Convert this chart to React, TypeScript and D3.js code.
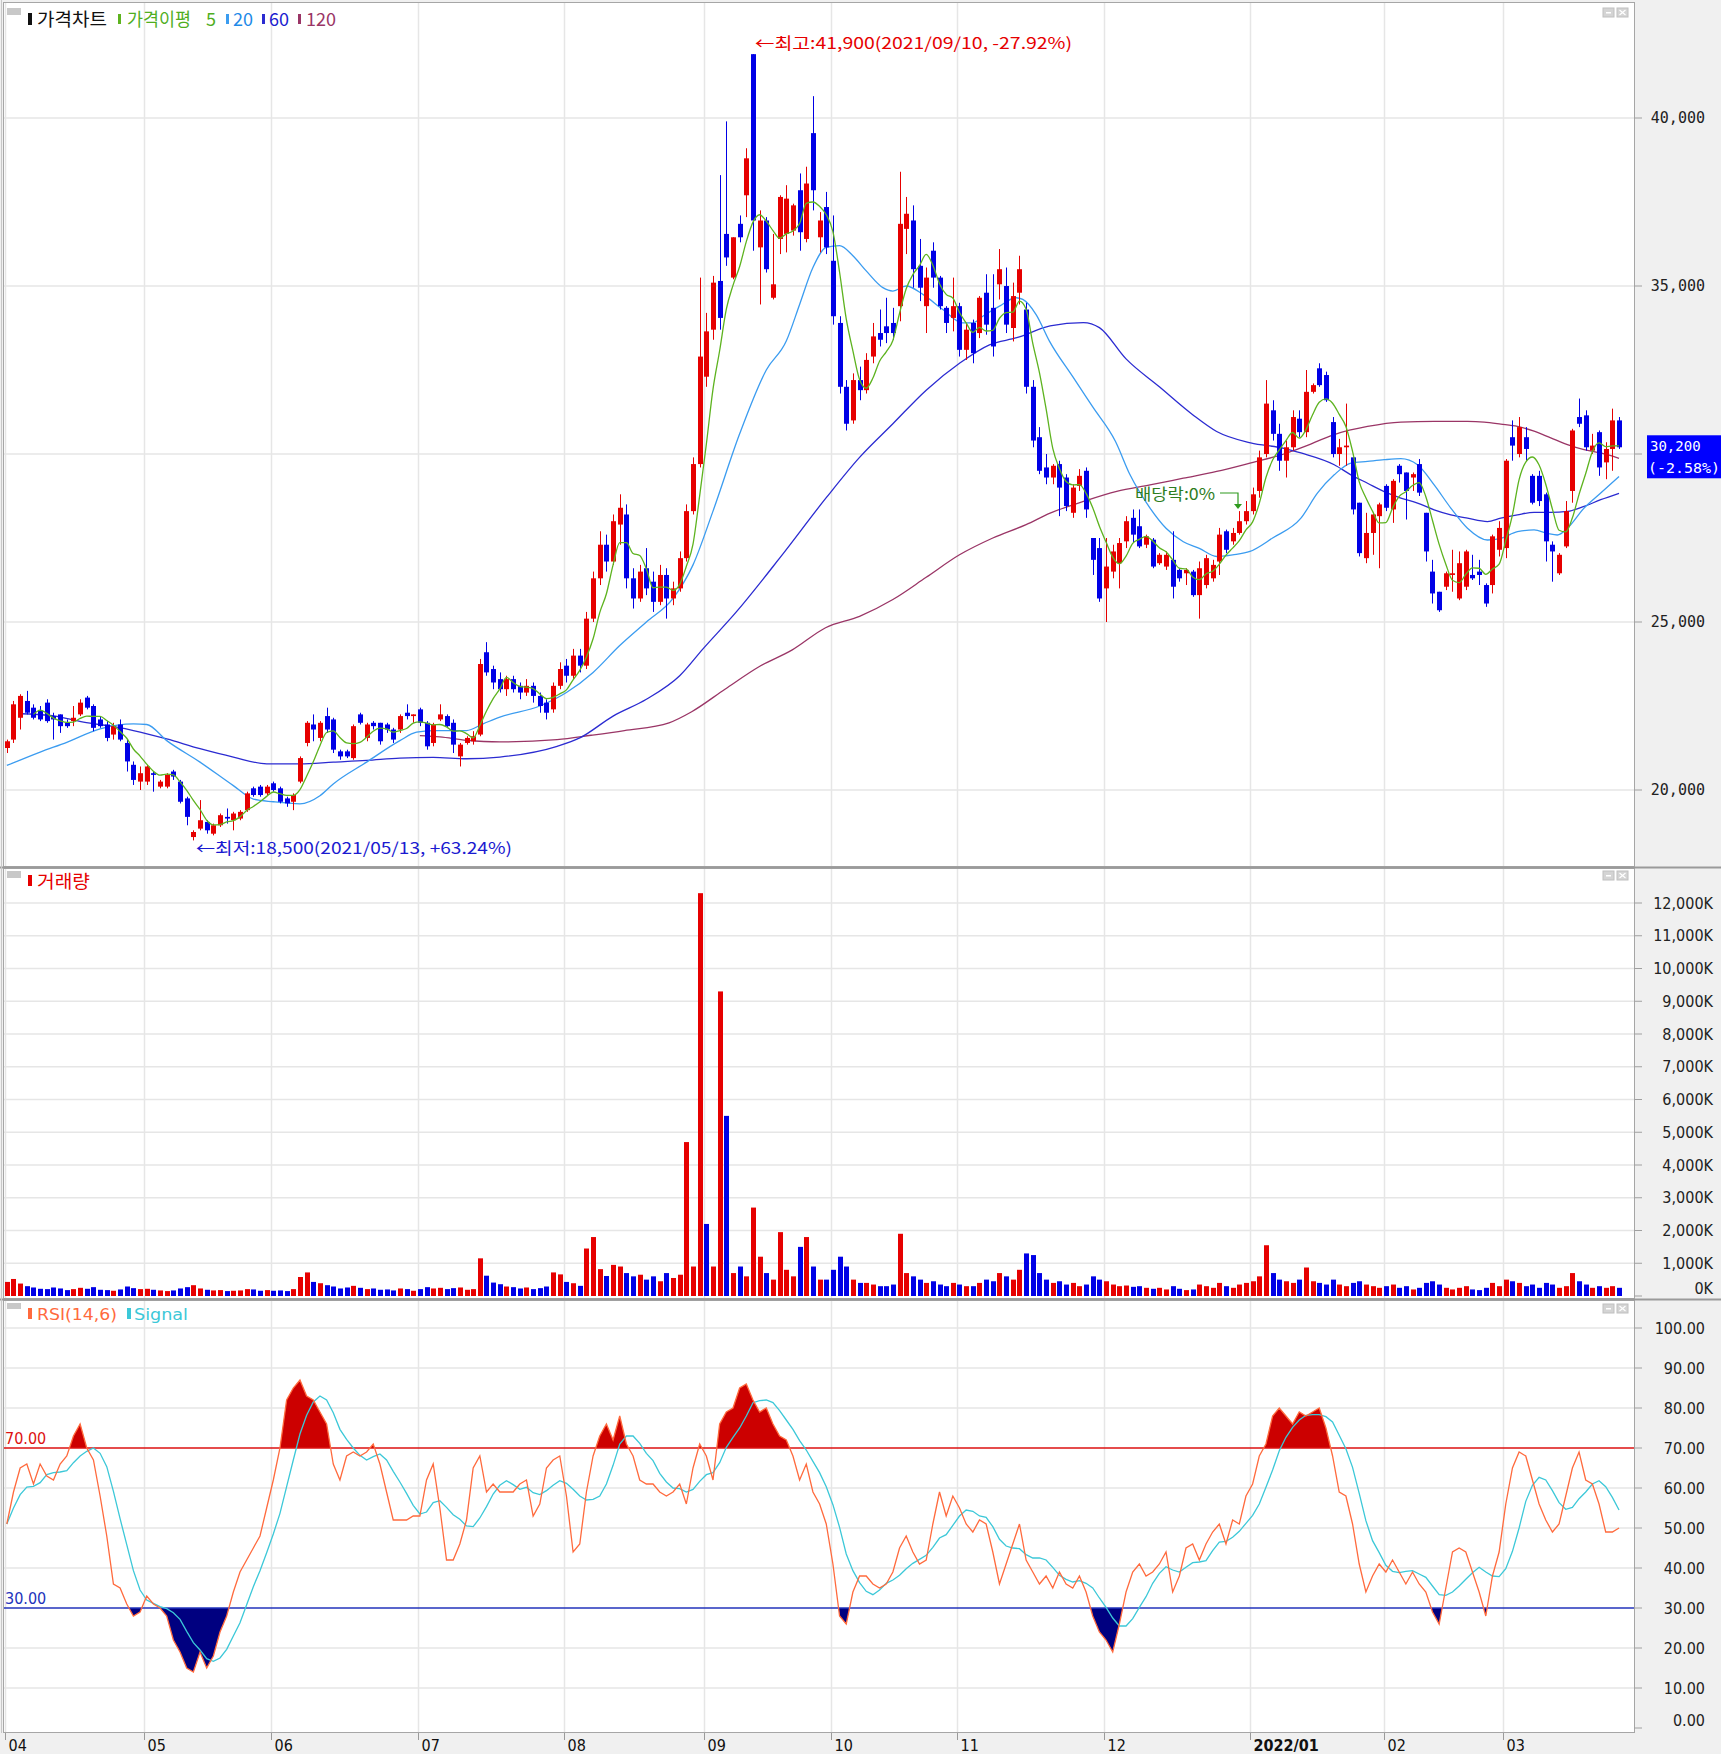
import React from "react";
import * as d3 from "d3";

// ---------------- data ----------------
const monthLabels = ["04", "05", "06", "07", "08", "09", "10", "11", "12", "2022/01", "02", "03"];
const monthStartIdx = [0, 21, 40, 62, 84, 105, 124, 143, 165, 187, 207, 225];

// [open, high, low, close]
const candlesApr = [
  [21250, 21500, 21100, 21450], [21500, 22650, 21400, 22550], [22150, 22850, 21800, 22800], [22650, 22950, 22250, 22300],
  [22450, 22550, 22100, 22150], [22350, 22500, 22050, 22100], [22600, 22700, 22000, 22050], [22200, 22300, 21500, 22100],
  [22250, 22250, 21700, 21900], [22000, 22100, 21850, 21900], [22050, 22500, 21900, 22150], [22250, 22700, 22200, 22600],
  [22750, 22800, 22400, 22450], [22500, 22550, 21750, 21850], [22100, 22200, 21850, 21900], [21950, 22050, 21450, 21550],
  [21650, 22000, 21500, 21900], [21950, 22100, 21450, 21500], [21400, 21500, 20550, 20850], [20750, 20850, 20150, 20300],
  [20250, 20700, 20000, 20500],
];
const candlesMay = [
  [20250, 20750, 20150, 20700], [20500, 20550, 19950, 20450], [20100, 20300, 20050, 20250], [20100, 20500, 20050, 20450],
  [20550, 20600, 20300, 20400], [20250, 20300, 19600, 19650], [19750, 19800, 18950, 19200], [18600, 18800, 18500, 18750],
  [18850, 19700, 18800, 19100], [19050, 19100, 18700, 18800], [18700, 19000, 18650, 18950], [18950, 19300, 18900, 19250],
  [19200, 19450, 19000, 19150], [19100, 19350, 18800, 19300], [19150, 19400, 19100, 19350], [19400, 19950, 19350, 19900],
  [20050, 20100, 19800, 19850], [20100, 20150, 19800, 19850], [19900, 20150, 19850, 20100],
];
const candlesJun = [
  [20200, 20250, 19950, 20000], [20050, 20100, 19600, 19650], [19750, 19800, 19500, 19600], [19650, 19900, 19400, 19850],
  [20250, 21000, 20200, 20950], [21400, 22050, 21300, 22000], [21950, 22250, 21450, 21800], [21550, 22050, 21450, 22000],
  [22200, 22450, 21700, 21800], [22100, 22150, 21100, 21200], [21150, 21200, 20900, 21000], [21150, 21200, 20950, 21000],
  [20950, 21950, 20900, 21900], [22250, 22300, 21950, 22000], [21550, 22000, 21450, 21950], [22000, 22050, 21800, 21900],
  [22000, 22000, 21350, 21450], [21950, 22000, 21700, 21800], [21800, 21850, 21400, 21500], [21800, 22250, 21700, 22200],
  [22300, 22550, 22100, 22200], [22200, 22250, 22000, 22250],
];
const candlesJul = [
  [22400, 22450, 21900, 22000], [22000, 22050, 21200, 21300], [21400, 22000, 21300, 21950], [22100, 22550, 22050, 22250],
  [22200, 22250, 21850, 21900], [22000, 22100, 21100, 21350], [21000, 21400, 20700, 21350], [21400, 21600, 21350, 21550],
  [21450, 21750, 21350, 21600], [21650, 23900, 21600, 23750], [24100, 24400, 23400, 23500], [23600, 23700, 23000, 23200],
  [23300, 23500, 22900, 23000], [23000, 23400, 22800, 23300], [23300, 23400, 22900, 23000], [23100, 23200, 22700, 22900],
  [22900, 23300, 22800, 23100], [23100, 23200, 22600, 22800], [22800, 22900, 22300, 22500], [22600, 22700, 22100, 22300],
  [22400, 23200, 22300, 23100], [23100, 23800, 23000, 23600],
];
const candlesAug = [
  [23700, 23900, 23200, 23400], [23400, 24200, 23300, 24000], [24000, 24200, 23500, 23700], [23700, 25300, 23600, 25100],
  [25100, 26500, 25000, 26300], [26300, 27700, 26100, 27300], [27300, 27600, 26500, 26800], [26800, 28200, 26700, 28000],
  [27900, 28800, 27300, 28400], [28200, 28500, 26000, 26300], [26300, 26600, 25400, 25700], [25700, 26700, 25600, 26500],
  [26600, 27200, 25800, 26000], [26200, 26500, 25300, 25600], [25600, 26700, 25500, 26400], [26400, 26600, 25100, 25700],
  [25700, 26200, 25500, 26000], [26000, 27100, 25900, 26900], [26900, 28500, 26800, 28300], [28300, 29900, 28200, 29700],
  [29700, 35250, 29600, 32900],
];
const candlesSep = [
  [32300, 34200, 32000, 33650], [33700, 35300, 33400, 35100], [35150, 38300, 33700, 34050], [36550, 39900, 35600, 35850],
  [35250, 36450, 35200, 36450], [36850, 37100, 36300, 36450], [37700, 39100, 37050, 38800], [41900, 41900, 36050, 36950],
  [36150, 37250, 34450, 36950], [36950, 37050, 35400, 35500], [34650, 36550, 34600, 35050], [36400, 37700, 35950, 37650],
  [36550, 38000, 36000, 37600], [36650, 37450, 36500, 37400], [37850, 38350, 36050, 36600], [36400, 38550, 36300, 38050],
  [39550, 40650, 37250, 37850], [36450, 37200, 36000, 36950], [37350, 37800, 35950, 36150],
];
const candlesOct = [
  [35750, 37100, 33850, 34100], [33900, 34100, 31800, 32000], [32000, 32200, 30700, 30900], [31000, 32400, 30900, 32200],
  [32200, 32600, 31600, 31900], [31900, 33000, 31800, 32800], [32900, 33900, 32700, 33500], [33600, 34300, 33200, 33400],
  [33800, 34650, 33300, 33600], [33900, 34350, 33400, 33600], [34400, 38400, 33950, 36850], [36700, 37650, 35950, 37150],
  [36950, 37400, 34950, 35500], [35600, 36400, 34550, 34950], [34400, 35550, 33600, 35250], [36050, 36300, 34950, 35250],
  [35250, 35300, 34300, 34400], [34350, 34400, 33600, 33900], [34050, 35250, 33650, 34400],
];
const candlesNov = [
  [34400, 34500, 32900, 33100], [33100, 33900, 32800, 33700], [33900, 34000, 32700, 33000], [33600, 34700, 33450, 34650],
  [34800, 35350, 33550, 33850], [34350, 35350, 32900, 33200], [35050, 36100, 34600, 35500], [35000, 35550, 33600, 33850],
  [33750, 35100, 33350, 34700], [34800, 35900, 34450, 35500], [34300, 34500, 31800, 32000], [32000, 32200, 30200, 30400],
  [30500, 30800, 29400, 29500], [29600, 30000, 29100, 29300], [29300, 29700, 29100, 29650], [29700, 29800, 28150, 29000],
  [29300, 29400, 28300, 28450], [28250, 29100, 28100, 29000], [29050, 29550, 28900, 29350], [29500, 29600, 28100, 28350],
  [27500, 27500, 26400, 26850], [27200, 27500, 25600, 25700],
];
const candlesDec = [
  [26000, 27500, 25000, 26650], [26500, 27300, 26300, 27100], [26750, 27500, 26000, 27350], [27400, 28150, 27200, 28000],
  [28100, 28350, 27350, 27600], [27850, 28350, 27200, 27250], [27300, 27600, 27200, 27550], [27450, 27500, 26600, 26650],
  [26750, 27050, 26700, 27000], [26650, 27100, 26550, 27000], [26850, 27700, 25700, 26050], [26550, 26600, 26200, 26300],
  [26450, 26600, 26100, 26550], [26500, 26550, 25750, 25800], [25800, 26800, 25100, 26600], [26100, 27000, 26000, 26900],
  [26300, 26850, 26200, 26700], [26800, 27800, 26400, 27600], [27700, 27750, 27050, 27150], [27400, 27800, 27300, 27650],
  [27650, 28300, 27600, 28000], [28000, 28600, 27900, 28300],
];
const candlesJan = [
  [28300, 29000, 28200, 28800], [28900, 30100, 28700, 29900], [30000, 32200, 29900, 31500], [31300, 31600, 30400, 30600],
  [30600, 30900, 29500, 29800], [29800, 30400, 29300, 30200], [30200, 31300, 30100, 31100], [31050, 31300, 30500, 30650],
  [30650, 32500, 30500, 31850], [31850, 32100, 31800, 32050], [32550, 32700, 32000, 32050], [32350, 32450, 31550, 31600],
  [30950, 31100, 29900, 30000], [30000, 30450, 29650, 30200], [30200, 31500, 29650, 30250], [29900, 29900, 28200, 28350],
  [28550, 28550, 26950, 27050], [26900, 28250, 26750, 27650], [27650, 28250, 27000, 28200], [28150, 28550, 26600, 28500],
];
const candlesFeb = [
  [29050, 29100, 28300, 28400], [28350, 29250, 27950, 29200], [29650, 29700, 29150, 29400], [29450, 29450, 28050, 28900],
  [29300, 29450, 28900, 29400], [29700, 29850, 28750, 28850], [28250, 28250, 26800, 27100], [26500, 26850, 25550, 25850],
  [25900, 25900, 25300, 25350], [26050, 26500, 25950, 26450], [26400, 27150, 25900, 26450], [25700, 27100, 25650, 26750],
  [26050, 27150, 25950, 27100], [26400, 27000, 26250, 26300], [26500, 26850, 26100, 26400], [26100, 26150, 25450, 25550],
  [26100, 27600, 25850, 27550], [27150, 28000, 26950, 27800],
];
const candlesMar = [
  [27200, 29850, 26900, 29800], [30500, 31000, 29800, 30250], [30000, 31100, 29900, 30800], [30500, 30800, 29800, 30150],
  [29350, 29400, 28500, 28550], [29350, 29500, 28450, 28600], [28800, 28850, 26800, 27400], [27300, 27400, 26200, 27100],
  [26450, 27050, 26400, 27000], [27250, 28600, 27200, 28300], [28900, 30750, 28550, 30700], [31100, 31650, 30800, 30900],
  [31150, 31300, 30100, 30200], [30100, 30600, 30000, 30250], [30650, 30700, 29350, 29600], [29750, 30350, 29250, 30150],
  [30150, 31350, 29500, 31000], [31000, 31100, 30150, 30200],
];

// volume, thousands of shares
const volAprJun = [
  430, 520, 380, 300, 260, 220, 210, 260, 230, 180, 210, 250, 220, 270, 190, 180, 160, 200, 290, 240, 210,
  220, 190, 170, 150, 170, 230, 270, 330, 230, 190, 170, 180, 150, 160, 170, 210, 200, 160, 180,
  160, 170, 150, 210, 580, 720, 430, 390, 330, 290, 230, 260, 310, 250, 210, 230, 190, 200, 170, 230, 210, 160,
];
const volJulSep = [
  210, 270, 230, 250, 210, 240, 260, 190, 210, 1150, 620, 410, 360, 290, 270, 230, 260, 210, 240, 290, 720, 660,
  430, 390, 310, 1450, 1800, 820, 610, 950, 900, 700, 600, 650, 500, 600, 450, 700, 550, 650, 4700, 900, 12300,
  2200, 900, 9300, 5500, 700, 900, 600, 2700, 1200, 700, 500, 1950, 800, 600, 1500, 1800, 900, 500, 500,
];
const volOctDec = [
  800, 1200, 900, 500, 400, 400, 350, 300, 300, 350, 1900, 700, 600, 500, 400, 450, 350, 300, 400,
  350, 300, 300, 400, 500, 450, 700, 600, 500, 800, 1300, 1250, 700, 500, 400, 450, 350, 400, 300, 350, 600, 500,
  450, 350, 300, 320, 280, 300, 250, 220, 250, 200, 300, 220, 180, 200, 350, 300, 250, 400, 300, 250, 350, 400,
];
const volJanMar = [
  450, 600, 1550, 700, 500, 450, 400, 500, 870, 450, 400, 350, 500, 350, 300, 400, 450, 350, 300, 250,
  300, 350, 250, 300, 200, 250, 400, 450, 350, 250, 200, 250, 300, 200, 180, 250, 400, 300,
  500, 450, 400, 300, 350, 250, 400, 350, 250, 300, 700, 450, 350, 250, 300, 250, 300, 250,
];
// days whose volume bar colour differs from the candle colour
const volumeColorOverride: Record<number, "up" | "down"> = { 105: "down", 107: "up", 112: "up" };

// RSI(14) values per trading day
const rsiValues = [
  51, 59, 65, 66, 61, 66, 63, 62, 66, 68, 73, 76, 70, 67, 58, 48, 36, 35, 31, 28, 29,
  33, 31, 30, 28, 22, 19, 15, 14, 19, 15, 18, 24, 28, 34, 39, 42, 45, 48, 55,
  62, 70, 82, 85, 87, 83, 82, 79, 76, 66, 62, 68, 69, 68, 69, 71, 66, 59, 52, 52, 52, 53,
  53, 62, 66, 55, 42, 42, 46, 52, 65, 68, 59, 61, 59, 59, 59, 61, 62, 53, 56, 65, 67, 68,
  58, 44, 46, 59, 68, 73, 76, 72, 78, 71, 68, 62, 61, 61, 59, 58, 59, 61, 56, 65, 71,
  68, 62, 76, 79, 80, 85, 86, 82, 79, 80, 76, 73, 72, 68, 62, 66, 59, 56, 51,
  41, 28, 26, 34, 38, 38, 36, 35, 36, 39, 45, 48, 44, 41, 42, 51, 59, 53, 58,
  55, 51, 49, 52, 51, 44, 36, 41, 46, 51, 42, 39, 36, 38, 35, 39, 36, 35, 38, 34, 28, 24,
  22, 19, 26, 34, 39, 41, 38, 39, 41, 44, 34, 38, 45, 46, 42, 46, 49, 51, 46, 52, 51, 58,
  61, 68, 71, 78, 80, 78, 76, 79, 78, 79, 80, 75, 68, 59, 58, 51, 41, 34, 38, 41,
  39, 42, 39, 36, 39, 36, 34, 29, 26, 35, 44, 45, 44, 39, 34, 28, 38, 44,
  56, 65, 69, 68, 62, 56, 52, 49, 51, 58, 65, 69, 62, 61, 56, 49, 49, 50,
];

// moving averages: [trading-day index, value]
const ma20Samples = [
  [0, 20730], [5, 21130], [9, 21420], [14, 21820], [19, 21970], [21, 21950], [24, 21470], [29, 20830], [34, 20130],
  [37, 19730], [40, 19650], [44, 19590], [47, 19830], [49, 20180], [54, 20830], [59, 21470], [61.5, 21720], [64, 21770],
  [69, 21770], [71.5, 21970], [74, 22170], [80, 22500], [84, 22900], [88, 23500], [92, 24300], [96, 25000], [100, 25700],
  [103, 26700], [106, 28300], [110, 30600], [114, 32500], [117, 33360], [119, 34450], [121, 35550], [123, 36150],
  [125, 36200], [127, 35900], [129, 35450], [131.5, 34950], [133, 34850], [135, 35000], [137.5, 34750], [140.5, 34300],
  [143.5, 33900], [145, 33900], [146.5, 34100], [149, 34400], [151.5, 34650], [152.5, 34600], [154.5, 34150],
  [156.5, 33360], [160, 32300], [163, 31400], [166.4, 30380], [168.6, 29380], [171.6, 28390], [174, 27790],
  [176.6, 27390], [179, 27190], [181.6, 26950], [184, 27000], [186.6, 27100], [190, 27500], [194.25, 28090],
  [196.75, 28840], [199.25, 29380], [201.75, 29730], [204.25, 29780], [206.75, 29830], [209.25, 29860], [211.75, 29680],
  [214.25, 29080], [216.75, 28390], [219.25, 27790], [222.25, 27440], [224.25, 27490], [226.75, 27690], [229.25, 27740],
  [231.25, 27640], [232.75, 27590], [234.25, 27790], [236.75, 28390], [239.25, 28840], [242, 29330],
];
const ma60Samples = [
  [2, 22270], [6.5, 22220], [11.5, 22020], [16.5, 21870], [19, 21770], [24, 21520], [29, 21230], [34, 20980], [39, 20780],
  [44, 20780], [49, 20830], [54, 20880], [59, 20950], [64, 20970], [69, 20930], [74, 20980], [82.6, 21300], [86, 21550],
  [91, 22200], [96, 22700], [101, 23400], [104.5, 24200], [109.5, 25300], [116, 26900], [123, 28700], [128, 29900],
  [133, 30900], [138, 31900], [143, 32700], [147.5, 33250], [151.6, 33460], [156.6, 33810], [161.6, 33910], [164, 33760],
  [168, 32830], [173, 32000], [178, 31170], [181.6, 30670], [186.7, 30330], [191.7, 30170], [194.25, 30030],
  [199.25, 29680], [201.75, 29380], [204.25, 29130], [206.75, 28880], [209.25, 28690], [211.75, 28540], [214.25, 28340],
  [216.75, 28190], [219.25, 28090], [222.25, 27990], [224.25, 28090], [226.75, 28190], [229.25, 28260], [231.75, 28260],
  [234.25, 28290], [236.75, 28440], [239.25, 28640], [242, 28830],
];
const ma120Samples = [
  [62, 21620], [65, 21580], [69, 21480], [74, 21430], [82.6, 21500], [87.7, 21630], [92.7, 21770], [99.4, 22000],
  [102.8, 22330], [107.8, 23000], [112.9, 23670], [117.9, 24170], [122.9, 24830], [128, 25170], [133, 25670],
  [138, 26330], [143, 27000], [148, 27500], [153, 27900], [156.6, 28240], [161.6, 28590], [166.6, 28890], [171.6, 29080],
  [176.6, 29280], [181.6, 29480], [186.6, 29730], [191.7, 30000], [194.25, 30180], [199.25, 30580], [204.25, 30820],
  [209.25, 30950], [214.25, 30970], [219.25, 30970], [221.75, 30950], [224.25, 30890], [226.75, 30820], [229.25, 30680],
  [231.75, 30480], [234.25, 30280], [236.75, 30130], [239.25, 30030], [242, 29870],
];

const priceTicks = [20000, 25000, 30000, 35000, 40000];
const volumeTicks = [0, 1000, 2000, 3000, 4000, 5000, 6000, 7000, 8000, 9000, 10000, 11000, 12000];
const rsiTicks = [0, 10, 20, 30, 40, 50, 60, 70, 80, 90, 100];
const lastPrice = 30200;
const lastPriceLabel = "30,200";
const lastChangeLabel = "(-2.58%)";
const highNote = "←최고:41,900(2021/09/10, -27.92%)";
const lowNote = "←최저:18,500(2021/05/13, +63.24%)";
const dividendNote = "배당락:0%";

// ---------------- drawing ----------------
const UP = "#e60000";
const DOWN = "#0000e6";
const GRID = "#e6e6e6";
const FRAME = "#a6a6a6";
const MONO = "'DejaVu Sans Mono', 'Liberation Mono', monospace";
const KR = "'Noto Sans CJK KR', 'Noto Sans', sans-serif";
const COND = "'DejaVu Sans Condensed', 'Liberation Sans Narrow', 'DejaVu Sans', sans-serif";

const PL = 4, PR = 1634;
const P1 = [3, 866], P2 = [869, 1298], P3 = [1301, 1732];

function Buttons({ y }: { y: number }) {
  return (
    <g>
      <rect x={1603} y={y} width={11} height={9} fill="#d4d4d4" stroke="#c0c0c0" />
      <rect x={1606} y={y + 4} width={5} height={1.5} fill="#ffffff" />
      <rect x={1617} y={y} width={11} height={9} fill="#d4d4d4" stroke="#c0c0c0" />
      <path d={`M${1619.5},${y + 2} L${1625.5},${y + 7} M${1625.5},${y + 2} L${1619.5},${y + 7}`} stroke="#ffffff" strokeWidth={1.2} />
    </g>
  );
}

export default function App() {
  const candles = [
    ...candlesApr, ...candlesMay, ...candlesJun, ...candlesJul, ...candlesAug, ...candlesSep,
    ...candlesOct, ...candlesNov, ...candlesDec, ...candlesJan, ...candlesFeb, ...candlesMar,
  ];
  const volumes = [...volAprJun, ...volJulSep, ...volOctDec, ...volJanMar];
  const N = 243;
  const x = d3.scaleLinear().domain([0, N]).range([3.5, 3.5 + N * 6.662]);
  const cx = (i: number) => x(i + 0.5);
  const yP = d3.scaleLinear().domain([20000, 40000]).range([790, 118]);
  const yV = d3.scaleLinear().domain([0, 12000]).range([1296, 903]);
  const yR = d3.scaleLinear().domain([0, 100]).range([1728, 1328]);

  const closes = candles.map((c) => c[3]);
  const ma5: [number, number][] = [];
  for (let i = 4; i < closes.length; i++) {
    ma5.push([i, d3.mean(closes.slice(i - 4, i + 1)) as number]);
  }
  const signal: [number, number][] = rsiValues.map((_, i) => {
    const s = rsiValues.slice(Math.max(0, i - 5), i + 1);
    return [i, d3.mean(s) as number];
  });

  const maLine = d3
    .line<number[]>()
    .x((d) => cx(d[0]))
    .y((d) => yP(d[1]))
    .curve(d3.curveMonotoneX);
  const rsiLine = d3
    .line<number>()
    .x((_, i) => cx(i))
    .y((d) => yR(d));
  const sigLine = d3
    .line<[number, number]>()
    .x((d) => cx(d[0]))
    .y((d) => yR(d[1]));
  const area70 = d3
    .area<number>()
    .x((_, i) => cx(i))
    .y0(yR(70))
    .y1((d) => yR(d));
  const area30 = d3
    .area<number>()
    .x((_, i) => cx(i))
    .y0(yR(30))
    .y1((d) => yR(d));

  const gridX = monthStartIdx.map((i) => Math.round(x(i)) + 1.5);
  const fmt = d3.format(",");
  const boxY = yP(lastPrice);

  return (
    <svg
      width={1721}
      height={1754}
      viewBox="0 0 1721 1754"
      style={{ position: "absolute", left: 0, top: 0, display: "block" }}
    >
      <defs>
        <clipPath id="above70">
          <rect x={PL} y={P3[0]} width={PR - PL} height={yR(70) - P3[0]} />
        </clipPath>
        <clipPath id="below30">
          <rect x={PL} y={yR(30)} width={PR - PL} height={P3[1] - yR(30)} />
        </clipPath>
        <clipPath id="pricePanel">
          <rect x={PL} y={P1[0]} width={PR - PL} height={P1[1] - P1[0]} />
        </clipPath>
      </defs>
      <rect x={0} y={0} width={1721} height={1754} fill="#f0f0f0" />

      {[P1, P2, P3].map((p, k) => (
        <rect key={k} x={PL} y={p[0]} width={PR - PL} height={p[1] - p[0]} fill="#ffffff" />
      ))}

      {gridX.map((gx, k) => (
        <g key={k}>
          <line x1={gx} x2={gx} y1={P1[0]} y2={P1[1]} stroke={GRID} strokeWidth={1.5} />
          <line x1={gx} x2={gx} y1={P2[0]} y2={P2[1]} stroke={GRID} strokeWidth={1.5} />
          <line x1={gx} x2={gx} y1={P3[0]} y2={P3[1]} stroke={GRID} strokeWidth={1.5} />
          <line x1={gx} x2={gx} y1={1733} y2={1740} stroke="#9a9a9a" />
          <text
            x={gx + 3}
            y={1751}
            fontFamily={COND}
            fontSize={16}
            fontWeight={monthLabels[k].length > 2 ? "bold" : "normal"}
            fill="#111"
          >
            {monthLabels[k]}
          </text>
        </g>
      ))}

      {priceTicks.map((t) => (
        <line key={t} x1={PL} x2={PR} y1={yP(t)} y2={yP(t)} stroke={GRID} strokeWidth={1.5} />
      ))}
      {volumeTicks.slice(1).map((t) => (
        <line key={t} x1={PL} x2={PR} y1={yV(t)} y2={yV(t)} stroke={GRID} strokeWidth={1.5} />
      ))}
      {rsiTicks.filter((t) => t !== 30 && t !== 70 && t !== 0).map((t) => (
        <line key={t} x1={PL} x2={PR} y1={yR(t)} y2={yR(t)} stroke={GRID} strokeWidth={1.5} />
      ))}

      <g clipPath="url(#pricePanel)">
        <path d={maLine(ma120Samples) || ""} fill="none" stroke="#9a3566" strokeWidth={1.3} />
        <path d={maLine(ma60Samples) || ""} fill="none" stroke="#2b2bd1" strokeWidth={1.3} />
        <path d={maLine(ma20Samples) || ""} fill="none" stroke="#3b9cf0" strokeWidth={1.3} />
        {candles.map((c, i) => {
          const [o, h, l, cl] = c;
          const col = cl >= o ? UP : DOWN;
          const xc = Math.round(cx(i));
          const top = yP(Math.max(o, cl));
          const bot = yP(Math.min(o, cl));
          return (
            <g key={i}>
              <line x1={xc + 0.5} x2={xc + 0.5} y1={yP(h)} y2={yP(l)} stroke={col} strokeWidth={1} />
              <rect x={xc - 2} y={top} width={5} height={Math.max(1, bot - top)} fill={col} />
            </g>
          );
        })}
        <path d={maLine(ma5) || ""} fill="none" stroke="#5db31f" strokeWidth={1.3} />
      </g>

      <text x={755} y={49} fontFamily={KR} fontSize={16} fill={UP} textLength={317} lengthAdjust="spacingAndGlyphs">
        {highNote}
      </text>
      <text x={196} y={854} fontFamily={KR} fontSize={16} fill="#1a1ad0" textLength={316} lengthAdjust="spacingAndGlyphs">
        {lowNote}
      </text>
      <text x={1135} y={500} fontFamily={KR} fontSize={16} fill="#2e7d1e" textLength={80} lengthAdjust="spacingAndGlyphs">
        {dividendNote}
      </text>
      <path d="M1220,493 L1238,493 L1238,505" fill="none" stroke="#2e9a1e" strokeWidth={1.2} />
      <path d="M1234,504 L1242,504 L1238,509 Z" fill="#2e9a1e" />

      {volumes.map((v, i) => {
        const c = candles[i];
        if (!c) return null;
        const dir = volumeColorOverride[i] ?? (c[3] >= c[0] ? "up" : "down");
        const col = dir === "up" ? UP : DOWN;
        const xc = Math.round(cx(i));
        return <rect key={i} x={xc - 2} y={yV(v)} width={5} height={yV(0) - yV(v)} fill={col} />;
      })}

      <path d={area70(rsiValues) || ""} fill="#cc0000" clipPath="url(#above70)" />
      <path d={area30(rsiValues) || ""} fill="#000080" clipPath="url(#below30)" />
      <line x1={PL} x2={PR} y1={yR(70)} y2={yR(70)} stroke="#dd1111" strokeWidth={1.5} />
      <line x1={PL} x2={PR} y1={yR(30)} y2={yR(30)} stroke="#2233bb" strokeWidth={1.5} />
      <path d={sigLine(signal) || ""} fill="none" stroke="#3cc8d8" strokeWidth={1.3} />
      <path d={rsiLine(rsiValues) || ""} fill="none" stroke="#ff6a3d" strokeWidth={1.3} />
      <text x={5} y={1444} fontFamily={COND} fontSize={16} fill="#dd1111">70.00</text>
      <text x={5} y={1604} fontFamily={COND} fontSize={16} fill="#2233bb">30.00</text>

      {[P1, P2, P3].map((p, k) => (
        <rect key={k} x={PL - 0.5} y={p[0] - 0.5} width={PR - PL + 1} height={p[1] - p[0] + 1} fill="none" stroke={FRAME} />
      ))}
      <line x1={0} x2={1721} y1={867.5} y2={867.5} stroke="#9a9a9a" strokeWidth={2} />
      <line x1={0} x2={1721} y1={1299.5} y2={1299.5} stroke="#9a9a9a" strokeWidth={2} />
      <line x1={1.5} x2={1.5} y1={0} y2={1733} stroke="#c8c8c8" strokeWidth={1} />

      {priceTicks.map((t) => (
        <g key={t}>
          <line x1={PR} x2={PR + 8} y1={yP(t)} y2={yP(t)} stroke="#a0a0a0" />
          {Math.abs(yP(t) - boxY) > 30 && (
            <text x={1705} y={yP(t)} dy="0.35em" textAnchor="end" fontFamily={MONO} fontSize={15} fill="#222">
              {fmt(t)}
            </text>
          )}
        </g>
      ))}
      {volumeTicks.map((t) => (
        <g key={t}>
          <line x1={PR} x2={PR + 8} y1={yV(t)} y2={yV(t)} stroke="#a0a0a0" />
          <text
            x={1713}
            y={t === 0 ? yV(t) - 8 : yV(t)}
            dy="0.35em"
            textAnchor="end"
            fontFamily={COND}
            fontSize={16}
            fill="#222"
          >
            {fmt(t)}K
          </text>
        </g>
      ))}
      {rsiTicks.map((t) => (
        <g key={t}>
          <line x1={PR} x2={PR + 8} y1={yR(t)} y2={yR(t)} stroke="#a0a0a0" />
          <text
            x={1705}
            y={t === 0 ? yR(t) - 8 : yR(t)}
            dy="0.35em"
            textAnchor="end"
            fontFamily={COND}
            fontSize={16}
            fill="#222"
          >
            {t.toFixed(2)}
          </text>
        </g>
      ))}

      <rect x={1647} y={boxY - 12} width={74} height={43} fill="#0000ff" />
      <text x={1650} y={boxY + 4} fontFamily={MONO} fontSize={14} fill="#fff">{lastPriceLabel}</text>
      <text x={1648} y={boxY + 26} fontFamily={MONO} fontSize={14} fill="#fff" textLength={72} lengthAdjust="spacingAndGlyphs">
        {lastChangeLabel}
      </text>

      <rect x={7} y={8} width={14} height={7} fill="#c8c8c8" />
      <rect x={28} y={13} width={4} height={12} fill="#111" />
      <text x={37} y={26} fontFamily={KR} fontSize={18} fill="#111" textLength={70} lengthAdjust="spacingAndGlyphs">가격차트</text>
      <rect x={118} y={14} width={3} height={10} fill="#5db31f" />
      <text x={127} y={26} fontFamily={KR} fontSize={18} fill="#4fae1e" textLength={64} lengthAdjust="spacingAndGlyphs">가격이평</text>
      <text x={206} y={26} fontFamily={KR} fontSize={18} fill="#4fae1e">5</text>
      <rect x={226} y={14} width={3} height={10} fill="#3b9cf0" />
      <text x={233} y={26} fontFamily={KR} fontSize={18} fill="#1f8ae8">20</text>
      <rect x={262} y={14} width={3} height={10} fill="#2b2bd1" />
      <text x={269} y={26} fontFamily={KR} fontSize={18} fill="#1c1cd0">60</text>
      <rect x={298} y={14} width={3} height={10} fill="#9a3566" />
      <text x={306} y={26} fontFamily={KR} fontSize={18} fill="#9a3566">120</text>
      <Buttons y={8} />

      <rect x={7} y={871} width={14} height={7} fill="#c8c8c8" />
      <rect x={28} y={875} width={4} height={11} fill={UP} />
      <text x={37} y={888} fontFamily={KR} fontSize={18} fill={UP} textLength={53} lengthAdjust="spacingAndGlyphs">거래량</text>
      <Buttons y={871} />

      <rect x={7} y={1303} width={14} height={6} fill="#c8c8c8" />
      <rect x={28} y={1308} width={4} height={11} fill="#ff6a3d" />
      <text x={37} y={1320} fontFamily={COND} fontSize={16} fill="#ff6a3d" textLength={80} lengthAdjust="spacingAndGlyphs">
        RSI(14,6)
      </text>
      <rect x={127} y={1308} width={4} height={11} fill="#3cc8d8" />
      <text x={134} y={1320} fontFamily={COND} fontSize={16} fill="#3cc8d8" textLength={54} lengthAdjust="spacingAndGlyphs">
        Signal
      </text>
      <Buttons y={1304} />
    </svg>
  );
}
